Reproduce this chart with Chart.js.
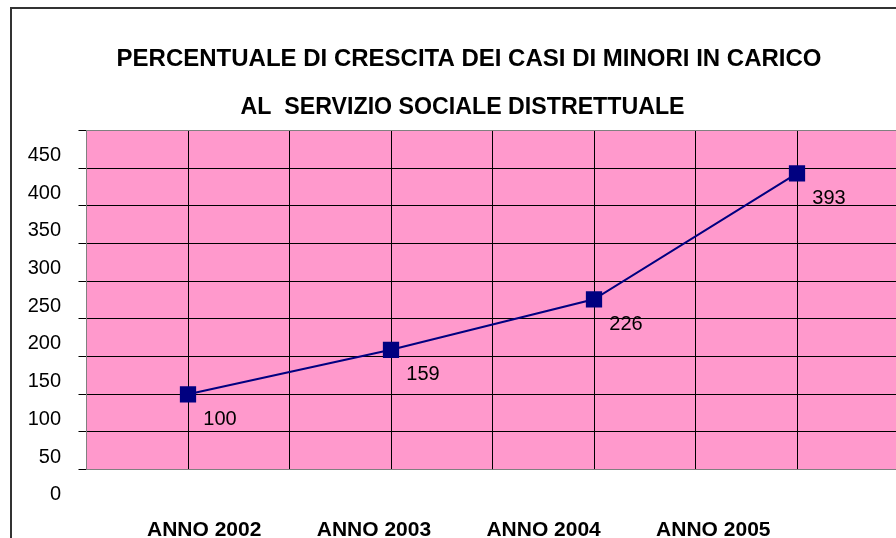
<!DOCTYPE html>
<html>
<head>
<meta charset="utf-8">
<script src="https://cdn.jsdelivr.net/npm/chart.js@4/dist/chart.umd.min.js"></script>
<style>
  html, body { margin: 0; padding: 0; width: 896px; height: 538px; overflow: hidden; background: #fff; }
  #wrap { position: absolute; left: 0; top: 0; width: 938px; height: 538px; }
</style>
</head>
<body>
<div id="wrap"><canvas id="c"></canvas></div>
<script>
// ---- data ----
const categories = ['ANNO 2002', 'ANNO 2003', 'ANNO 2004', 'ANNO 2005'];
const growthValues = [100, 159, 226, 393];
const yMin = 0;
const yMax = 450;
const yStep = 50;
const titleText = 'PERCENTUALE DI CRESCITA DEI CASI DI MINORI IN CARICO';
const subtitleText = 'AL  SERVIZIO SOCIALE DISTRETTUALE  ';

const FONT = '"Liberation Sans", Arial, sans-serif';
const PINK = '#FF99CC';
const NAVY = '#000080';

const decor = {
  id: 'decor',
  beforeDraw(chart) {
    const { ctx, chartArea: a } = chart;
    ctx.save();
    ctx.fillStyle = PINK;
    ctx.fillRect(a.left, a.top, a.right - a.left, a.bottom - a.top);
    ctx.restore();
  },
  afterDraw(chart) {
    const ctx = chart.ctx;
    ctx.save();
    ctx.strokeStyle = '#333';
    ctx.lineWidth = 2;
    ctx.strokeRect(11, 8, chart.width + 20, chart.height + 20);
    ctx.restore();
  }
};

const valueLabels = {
  id: 'valueLabels',
  afterDatasetsDraw(chart) {
    const ctx = chart.ctx;
    const meta = chart.getDatasetMeta(0);
    ctx.save();
    ctx.font = '20px ' + FONT;
    ctx.fillStyle = '#000';
    ctx.textAlign = 'center';
    ctx.textBaseline = 'middle';
    meta.data.forEach((pt, i) => {
      ctx.fillText(String(growthValues[i]), pt.x + 32, pt.y + 25);
    });
    ctx.restore();
  }
};

new Chart(document.getElementById('c'), {
  type: 'line',
  data: {
    labels: categories,
    datasets: [{
      data: growthValues,
      borderColor: NAVY,
      borderWidth: 2,
      tension: 0,
      fill: false,
      pointStyle: 'rect',
      pointRadius: 11.5,
      pointHoverRadius: 11.5,
      pointBackgroundColor: NAVY,
      pointBorderColor: NAVY,
      pointBorderWidth: 0,
      xAxisID: 'x',
      yAxisID: 'y'
    }]
  },
  options: {
    responsive: true,
    maintainAspectRatio: false,
    animation: false,
    devicePixelRatio: 1,
    layout: { padding: 0 },
    plugins: {
      legend: { display: false },
      tooltip: { enabled: false },
      title: {
        display: true,
        text: titleText,
        color: '#000',
        font: { family: FONT, size: 24, weight: 'bold', lineHeight: 1.2 },
        padding: { top: 44.6, bottom: 0 }
      },
      subtitle: {
        display: true,
        text: subtitleText,
        color: '#000',
        font: { family: FONT, size: 23.2, weight: 'bold', lineHeight: 1.2 },
        padding: { top: 20.7, bottom: 8.4 }
      }
    },
    scales: {
      x: {
        type: 'category',
        offset: true,
        position: 'bottom',
        grid: { offset: false, color: '#000', lineWidth: 1, drawTicks: false },
        border: { display: false },
        ticks: { display: false }
      },
      xb: {
        type: 'category',
        offset: true,
        position: 'bottom',
        grid: {
          offset: true,
          color: (c) => (c.index === 0 ? '#808080' : '#000'),
          lineWidth: 1,
          drawTicks: false
        },
        border: { display: false },
        ticks: { display: false }
      },
      xl: {
        type: 'linear',
        position: 'bottom',
        min: -0.6936,
        max: 4.0913,
        grid: { display: false },
        border: { display: false },
        afterBuildTicks: (s) => { s.ticks = categories.map((_, i) => ({ value: i })); },
        afterFit: (s) => { s.height = 68.3; },
        ticks: {
          autoSkip: false,
          maxRotation: 0,
          padding: 40,
          color: '#000',
          font: { family: FONT, size: 21, weight: 'bold' },
          callback: (v) => categories[v]
        }
      },
      y: {
        type: 'linear',
        position: 'left',
        min: yMin,
        max: yMax,
        afterFit: (s) => { s.width = 86.5; },
        grid: {
          color: (c) => (c.index === 0 || c.index === (yMax - yMin) / yStep ? '#808080' : '#000'),
          tickColor: '#000',
          lineWidth: 1,
          drawTicks: true,
          tickLength: 8
        },
        border: { display: true, color: '#808080', width: 1 },
        ticks: {
          stepSize: yStep,
          labelOffset: 25,
          padding: 17.5,
          color: '#000',
          font: { family: FONT, size: 20 }
        }
      },
      yr: {
        type: 'linear',
        position: 'right',
        display: true,
        grid: { display: false },
        border: { display: false },
        ticks: { display: false },
        afterFit: (s) => { s.width = 39.5; }
      }
    }
  },
  plugins: [decor, valueLabels]
});
</script>
</body>
</html>
